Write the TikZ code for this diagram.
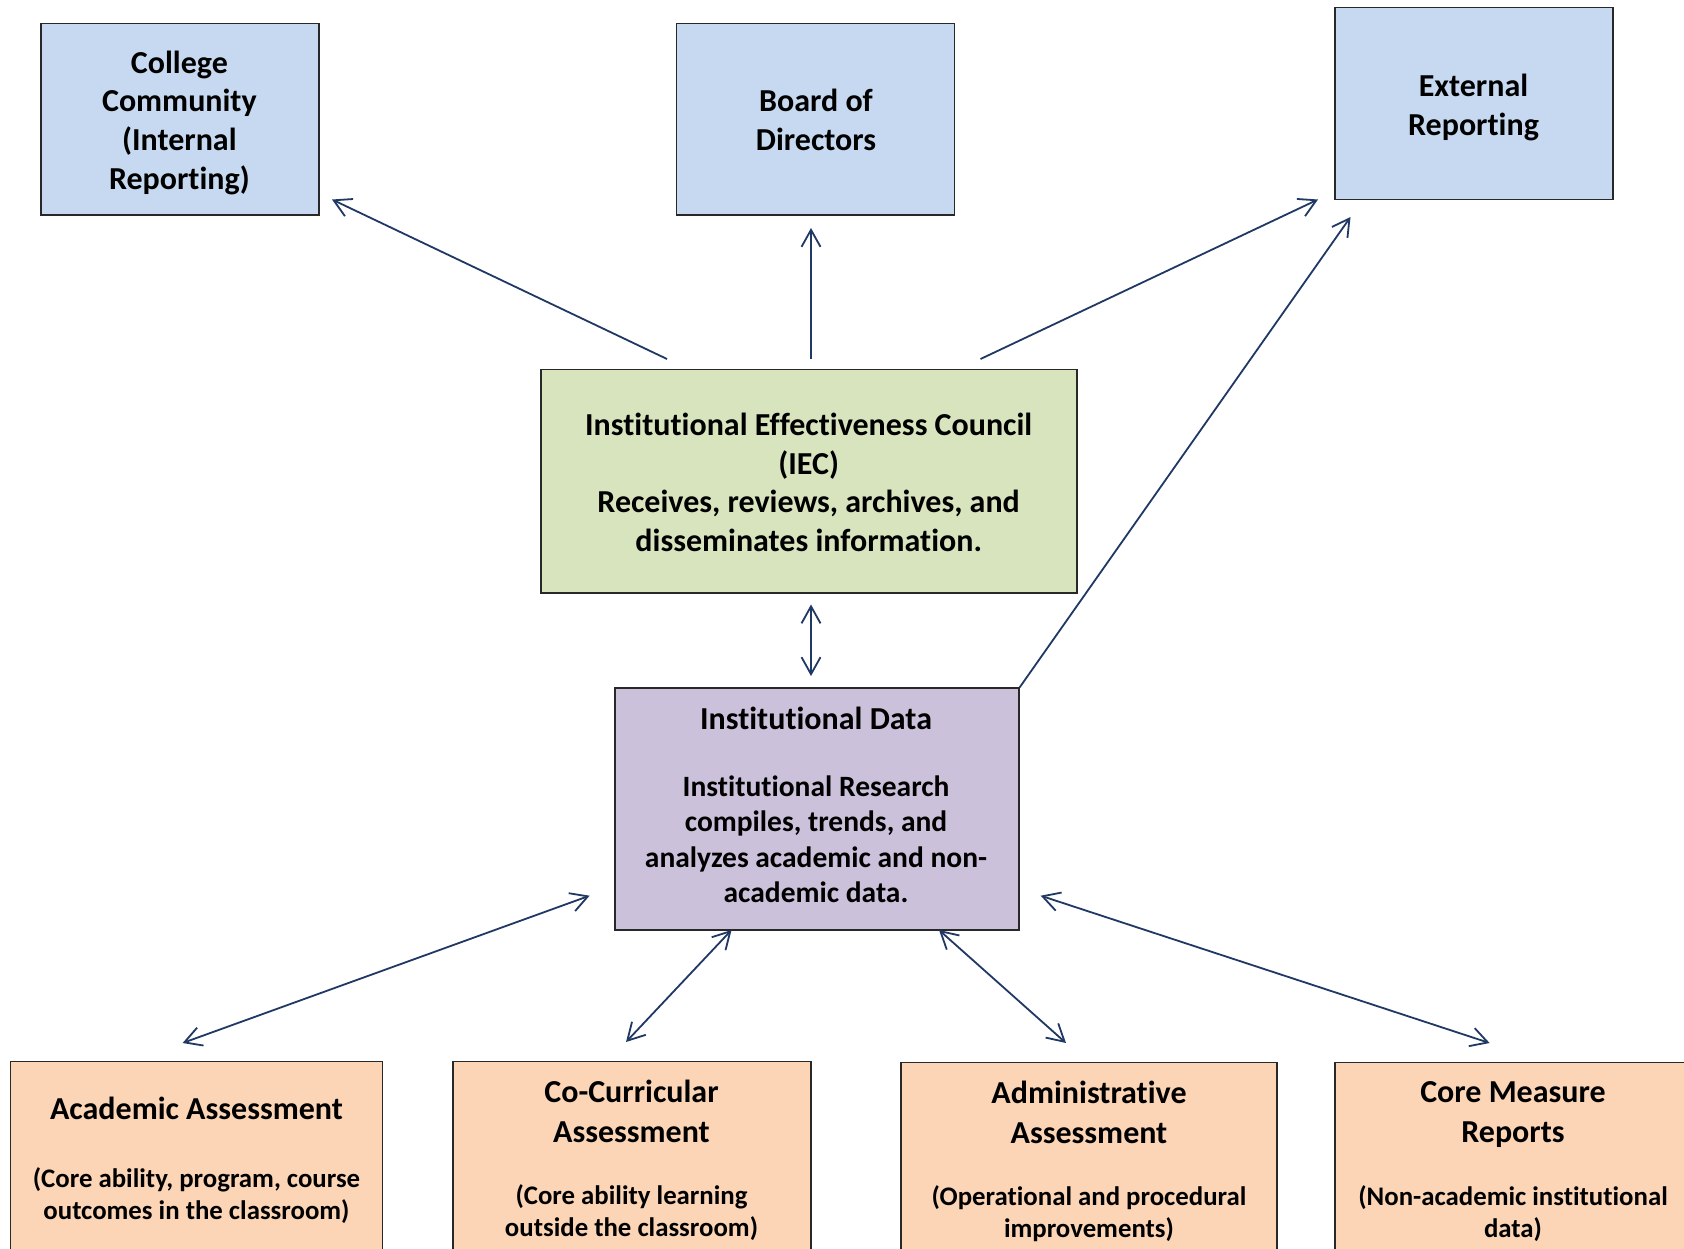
\documentclass[tikz,border=0pt]{standalone}
\usepackage{fontspec}
\setmainfont{Carlito}[Ligatures=NoCommon]
\usetikzlibrary{arrows.meta}
\definecolor{boxblue}{RGB}{198,217,240}
\definecolor{boxgreen}{RGB}{215,228,189}
\definecolor{boxpurple}{RGB}{204,193,218}
\definecolor{boxorange}{RGB}{251,213,181}
\definecolor{arrowblue}{RGB}{31,56,100}
\definecolor{bordergray}{RGB}{40,40,40}
\newcommand{\parenfont}{\fontsize{13.4}{16}\selectfont}
\begin{document}
\begin{tikzpicture}[x=0.5pt,y=-0.5pt,
  box/.style={draw=bordergray, line width=0.7pt, inner sep=0pt},
  lbl/.style={align=center, font=\bfseries\fontsize{16}{19.35}\selectfont, inner sep=0pt},
  blbl/.style={align=center, font=\bfseries\fontsize{16}{20}\selectfont, inner sep=0pt},
  barb/.tip={Straight Barb[length=8.5pt,width=9.5pt]},
  conn/.style={draw=arrowblue, line width=0.9pt, -barb},
  conntwo/.style={draw=arrowblue, line width=0.9pt, barb-barb}
]
\clip (0,0) rectangle (1684,1248);
\fill[white] (0,0) rectangle (1684,1248);

% top boxes
\node[box, fill=boxblue, minimum width=139pt, minimum height=95.6pt] (cc) at (180,119.2) {};
\node[lbl] (cct) at (179.4,122.7) {College\\Community\\(Internal\\Reporting)};
\node[box, fill=boxblue, minimum width=139pt, minimum height=95.6pt] (bod) at (815.7,119.2) {};
\node[lbl] (bodt) at (816,120) {Board of\\Directors};
\node[box, fill=boxblue, minimum width=139pt, minimum height=96pt] (ext) at (1474,103.3) {};
\node[lbl] (extt) at (1473.5,107.2) {External\\Reporting};

% IEC
\node[box, fill=boxgreen, minimum width=268pt, minimum height=111.75pt] (iec) at (809,481.3) {};
\node[lbl] (iect) at (808.7,482.5) {Institutional Effectiveness Council\\(IEC)\\Receives, reviews, archives, and\\disseminates information.};

% Data
\node[box, fill=boxpurple, minimum width=202pt, minimum height=121pt] (data) at (817,809) {};
\node[lbl, font=\bfseries\fontsize{14.75}{17.7}\selectfont] (datat) at (816,805) {{\fontsize{16}{17.7}\selectfont Institutional Data}\\[15.5pt]Institutional Research\\compiles, trends, and\\analyzes academic and non-\\academic data.};

% bottom boxes
\node[box, fill=boxorange, minimum width=186pt, minimum height=200pt, anchor=north] (aa) at (196.7,1061) {};
\node[blbl] (aat) at (196.5,1160.2) {Academic Assessment\\[14.1pt]{\parenfont (Core ability, program, course}\\[-4pt]{\parenfont outcomes in the classroom)}};
\node[box, fill=boxorange, minimum width=179pt, minimum height=200pt, anchor=north] (cca) at (632,1061) {};
\node[blbl] (ccat) at (631.5,1160.2) {Co-Curricular\\Assessment\\[11.4pt]{\parenfont (Core ability learning}\\[-4pt]{\parenfont outside the classroom)}};
\node[box, fill=boxorange, minimum width=188pt, minimum height=200pt, anchor=north] (adm) at (1089,1062) {};
\node[blbl] (admt) at (1089,1161.3) {Administrative\\Assessment\\[11.4pt]{\parenfont (Operational and procedural}\\[-4pt]{\parenfont improvements)}};
\node[box, fill=boxorange, minimum width=178pt, minimum height=200pt, anchor=north] (cmr) at (1513,1062) {};
\node[blbl] (cmrt) at (1513,1161.3) {Core Measure\\Reports\\[11.4pt]{\parenfont (Non-academic institutional}\\[-4pt]{\parenfont data)}};

% connector end points
\coordinate (a1s) at (667,359);   \coordinate (a1e) at (332,199.5);
\coordinate (a2s) at (811,359);   \coordinate (a2e) at (811,228);
\coordinate (a3s) at (980.5,359); \coordinate (a3e) at (1318,199.5);
\coordinate (a4e) at (1350.5,217);
\coordinate (a5s) at (811,604.5); \coordinate (a5e) at (811,676);
\coordinate (a6s) at (589.6,895.7); \coordinate (a6e) at (182.6,1043);
\coordinate (a7s) at (731.5,930); \coordinate (a7e) at (626,1042);
\coordinate (a8s) at (939,930);   \coordinate (a8e) at (1066,1043);
\coordinate (a9s) at (1040.7,895.7); \coordinate (a9e) at (1489.6,1043);

\draw[conn] (a1s) -- (a1e);
\draw[conn] (a2s) -- (a2e);
\draw[conn] (a3s) -- (a3e);
\draw[conn] (data.north east) -- (a4e);
\draw[conntwo] (a5s) -- (a5e);
\draw[conntwo] (a6s) -- (a6e);
\draw[conntwo] (a7s) -- (a7e);
\draw[conntwo] (a8s) -- (a8e);
\draw[conntwo] (a9s) -- (a9e);
\end{tikzpicture}
\end{document}
